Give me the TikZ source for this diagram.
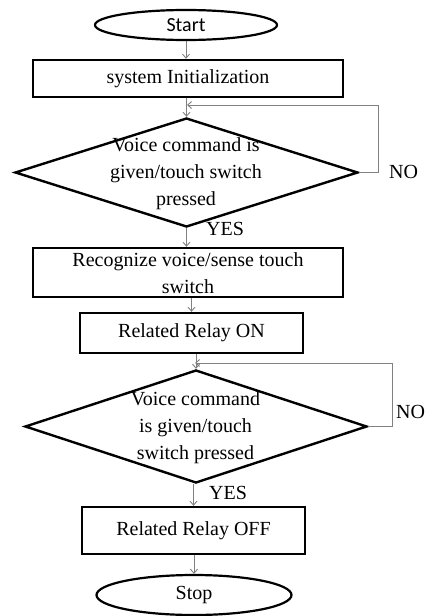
\documentclass[tikz,border=0pt]{standalone}
\usepackage{fontspec}
\setmainfont{Liberation Serif}
\newfontfamily\calibrifont{Carlito}
\usetikzlibrary{shapes.geometric,arrows.meta}
\begin{document}
\begin{tikzpicture}[x=1pt,y=1pt,
  every node/.style={font=\fontsize{20}{27}\selectfont},
  procbox/.style={draw=black, line width=2.4pt, rectangle, inner sep=0pt, align=center},
  term/.style={draw=black, line width=2.2pt, ellipse, inner sep=0pt},
  decide/.style={draw=black, line width=2.4pt, diamond, inner sep=0pt},
  conn/.style={draw=black!50, line width=0.9pt, -{Straight Barb[length=4pt,width=7pt]}},
  plain/.style={draw=black!50, line width=0.9pt},
  lbl/.style={inner sep=0pt}
]
\useasboundingbox (0,0) rectangle (426,-616);

\node[term, minimum width=182pt, minimum height=30pt] (start) at (186,-25) {\calibrifont Start};
\node[procbox, minimum width=310pt, minimum height=37pt] (init) at (188,-78.5) {system Initialization};
\node[decide, minimum width=343pt, minimum height=109pt] (d1) at (186.5,-172.5) {};
\node[lbl, align=center] (d1t) at (186,-174) {Voice command is\\given/touch switch\\pressed};
\node[procbox, minimum width=310pt, minimum height=49pt] (rec) at (188,-272.5) {};
\node[lbl, align=center] (rect) at (188,-273.5) {Recognize voice/sense touch\\switch};
\node[procbox, minimum width=223pt, minimum height=40pt] (on) at (191.5,-333) {Related Relay ON};
\node[decide, minimum width=342pt, minimum height=113pt] (d2) at (196,-426.5) {};
\node[lbl, align=center] (d2t) at (195.5,-427.5) {Voice command\\is given/touch\\switch pressed};
\node[procbox, minimum width=223pt, minimum height=47pt] (off) at (193.5,-530.5) {Related Relay OFF};
\node[term, minimum width=195pt, minimum height=40pt] (stop) at (194,-595) {Stop};

\node[lbl, anchor=west] (no1) at (389,-172) {NO};
\node[lbl, anchor=west] (no2) at (396,-412) {NO};
\node[lbl] (yes1) at (225,-229) {YES};
\node[lbl] (yes2) at (228,-493) {YES};

\coordinate (j1) at (187,-105);
\coordinate (r1) at (378,-105);
\coordinate (j2) at (195,-363);
\coordinate (r2) at (392,-363);

\draw[conn] (start.south) -- (start.south |- init.north);
\draw[conn] (init.south -| d1.north) -- (d1.north);
\draw[plain] (d1.east) -| (r1);
\draw[conn] (r1) -- (j1);
\draw[conn] (d1.south) -- (d1.south |- rec.north);
\draw[conn] (rec.south -| on.north) -- (on.north);
\draw[conn] (on.south -| d2.north) -- (d2.north);
\draw[plain] (d2.east) -| (r2);
\draw[conn] (r2) -- (j2);
\draw[conn] (d2.south -| off.north) -- (off.north);
\draw[conn] (off.south -| stop.north) -- (stop.north);
\end{tikzpicture}
\end{document}
